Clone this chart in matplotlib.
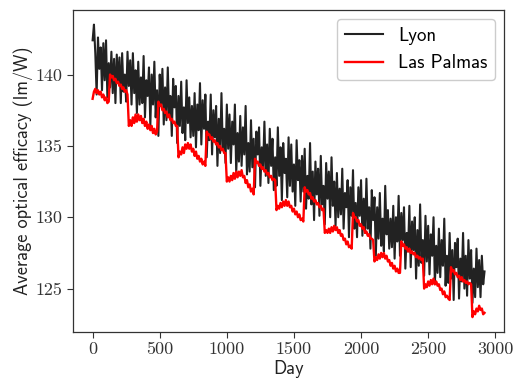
import numpy as np
import matplotlib
matplotlib.use('Agg')
import matplotlib.pyplot as plt
from matplotlib.ticker import FuncFormatter
#
# sampling grid: every 10 days over 8 years
days = np.arange(0, 2921, 10)
#
# Lyon average optical efficacy (lm/W) (one list per year)
lyon_y0 = [142.4, 143.5, 141.5, 138.6, 142.6, 140.4, 141.9, 138.9, 142.2, 139.6, 142.4, 138.4, 140.8,
           139.1, 141.6, 138.7, 141.1, 138.0, 141.4, 139.4, 141.2, 138.0, 141.5, 138.8, 140.0, 138.1,
           141.6, 139.2, 141.0, 137.9, 141.5, 138.7, 140.3, 137.3, 140.9, 137.9, 139.8]
lyon_y1 = [138.0, 141.3, 137.0, 139.6, 138.5, 140.5, 136.4, 140.0, 137.9, 140.9, 137.0, 138.9, 135.7,
           140.0, 137.9, 140.4, 136.5, 139.1, 136.8, 140.5, 137.1, 138.5, 135.7, 139.7, 137.7, 139.2,
           135.2, 138.5, 136.4, 139.5, 135.9, 137.7, 135.4, 139.6, 136.6, 138.4, 135.6]
lyon_y2 = [137.8, 135.7, 138.7, 134.9, 137.9, 136.1, 139.4, 135.1, 138.2, 136.2, 138.6, 134.2, 136.7,
           135.4, 138.6, 134.4, 137.5, 135.6, 137.8, 133.6, 136.9, 134.5, 138.7, 134.7, 136.2, 133.8,
           137.9, 134.8, 137.2, 133.8, 136.7, 135.1, 137.9, 133.1, 135.9, 133.9, 137.1]
lyon_y3 = [133.6, 136.3, 134.4, 137.8, 133.0, 135.2, 133.2, 136.8, 133.5, 135.5, 132.1, 136.0, 134.4,
           136.3, 132.2, 134.9, 133.4, 136.7, 132.9, 135.1, 132.4, 136.2, 133.6, 135.5, 131.9, 134.2,
           132.2, 136.3, 132.9, 134.9, 131.2, 135.2, 133.1, 134.1, 131.4, 135.6, 132.2]
lyon_y4 = [135.1, 131.8, 133.7, 130.8, 135.4, 132.6, 134.0, 131.1, 134.3, 131.8, 134.8, 130.6, 132.9,
           131.3, 135.2, 130.9, 133.2, 129.8, 133.9, 131.6, 133.4, 130.1, 134.3, 130.9, 132.2, 129.5,
           133.8, 131.3, 133.2, 130.0, 134.2, 130.8, 132.5, 129.4, 133.1, 130.0, 132.0]
lyon_y5 = [130.2, 133.4, 129.2, 131.7, 130.7, 132.6, 128.6, 132.1, 130.1, 133.3, 129.2, 131.0, 128.6,
           132.1, 130.1, 132.6, 128.7, 131.3, 128.9, 132.7, 129.2, 130.7, 127.8, 131.9, 129.8, 131.4,
           127.3, 130.7, 128.5, 131.7, 128.0, 129.9, 127.6, 132.2, 128.8, 130.5, 127.8]
lyon_y6 = [129.9, 127.9, 130.8, 127.1, 130.0, 128.3, 131.5, 127.3, 130.3, 128.4, 130.7, 126.4, 128.9,
           127.6, 130.8, 126.5, 129.7, 127.7, 130.0, 125.7, 129.1, 126.6, 130.9, 126.8, 128.4, 125.9,
           130.1, 126.9, 129.4, 126.0, 128.8, 127.3, 130.0, 125.3, 128.0, 126.1, 129.2]
lyon_y7 = [125.8, 128.4, 126.6, 129.9, 125.2, 127.3, 125.4, 128.9, 125.7, 127.7, 124.2, 128.2, 126.5,
           128.5, 124.3, 127.1, 125.5, 128.9, 125.0, 127.3, 124.5, 128.4, 125.7, 127.7, 124.0, 126.4,
           124.4, 127.8, 125.1, 127.0, 124.4, 127.3, 125.3, 126.2]
#
# Las Palmas average optical efficacy (lm/W)
palmas_y0 = [138.3, 138.8, 139.0, 138.7, 138.9, 138.6, 138.8, 138.4, 138.6, 138.2, 138.4, 138.0, 138.1,
             140.0, 139.8, 139.9, 139.6, 139.7, 139.4, 139.5, 139.2, 139.3, 139.0, 139.1, 138.8, 138.9, 138.6,
             136.4, 136.8, 136.4, 137.0, 136.6, 137.2, 136.7, 137.2, 136.8, 137.1, 136.6, 136.9, 136.4,
             136.7, 136.2, 136.5, 136.1, 136.4, 135.9, 136.2, 135.8, 136.0]
palmas_y1 = [138.1, 137.8, 137.9, 137.5, 137.6, 137.3, 137.4, 137.0, 137.2, 136.8, 136.9, 136.6, 136.7, 136.4, 136.4,
             134.2, 134.6, 134.4, 134.9, 134.5, 135.1, 134.8, 135.2, 134.8, 135.1, 134.6, 134.8, 134.3,
             134.6, 134.1, 134.3, 133.9, 134.1, 133.7, 133.9, 133.6]
palmas_y2 = [136.0, 135.8, 135.8, 135.5, 135.6, 135.3, 135.4, 135.1, 135.2, 134.9, 135.0, 134.7, 134.8, 134.5, 134.5,
             132.5, 132.8, 132.5, 132.9, 132.6, 133.1, 132.7, 133.2, 132.8, 133.2, 132.9, 133.3, 132.8,
             132.9, 132.4, 132.6, 132.1, 132.3, 131.8, 132.0, 131.6]
palmas_y3 = [134.1, 133.8, 133.9, 133.6, 133.7, 133.4, 133.5, 133.2, 133.3, 133.0, 133.1, 132.8, 132.9, 132.6,
             132.7, 132.6,
             130.5, 130.8, 130.6, 131.0, 130.7, 131.1, 130.8, 131.2, 130.8, 131.1, 130.7, 130.8, 130.4,
             130.6, 130.2, 130.4, 130.0, 130.2, 129.8, 129.9, 129.7]
palmas_y4 = [132.1, 131.8, 131.9, 131.6, 131.7, 131.3, 131.4, 131.1, 131.2, 130.9, 131.0, 130.7, 130.8, 130.5, 130.6,
             128.9, 129.1, 128.9, 129.2, 128.9, 129.3, 129.0, 129.4, 129.1, 129.3, 128.9, 129.1, 128.7,
             128.8, 128.4, 128.5, 128.1, 128.3, 127.9, 128.0, 127.8]
palmas_y5 = [130.3, 130.0, 130.0, 129.7, 129.8, 129.4, 129.5, 129.2, 129.3, 128.9, 129.0, 128.7, 128.8, 128.5,
             128.5, 128.4,
             126.9, 127.2, 127.0, 127.4, 127.1, 127.5, 127.2, 127.5, 127.1, 127.3, 126.9, 127.0, 126.6,
             126.8, 126.4, 126.6, 126.2, 126.4, 126.1, 126.1]
palmas_y6 = [128.3, 128.0, 128.1, 127.8, 127.9, 127.6, 127.8, 127.5, 127.6, 127.4, 127.5, 127.2, 127.3, 127.1,
             127.2, 127.0, 127.1,
             125.0, 125.3, 125.1, 125.5, 125.2, 125.6, 125.3, 125.7, 125.3, 125.5, 125.2, 125.3, 124.9,
             125.0, 124.6, 124.8, 124.4, 124.5, 124.3, 124.2]
palmas_y7 = [126.5, 126.2, 126.3, 126.0, 126.1, 125.8, 125.9, 125.6, 125.8, 125.5, 125.6, 125.4, 125.5, 125.3,
             125.4, 125.3,
             123.0, 123.4, 123.2, 123.6, 123.4, 123.8, 123.5, 123.6, 123.2, 123.3]
#
lyon = np.array(lyon_y0 + lyon_y1 + lyon_y2 + lyon_y3 + lyon_y4 + lyon_y5 + lyon_y6 + lyon_y7)
palmas = np.array(palmas_y0 + palmas_y1 + palmas_y2 + palmas_y3 + palmas_y4 + palmas_y5
                  + palmas_y6 + palmas_y7)
#
label_font = 'cmss10'
tick_font = 'cmr10'
#
fig = plt.figure(figsize=(5.16, 3.80), dpi=100)
ax = fig.add_axes([0.1415, 0.127, 0.8355, 0.8467])
ax.plot(days, lyon, color='#222222', lw=1.5, label='Lyon')
ax.plot(days, palmas, color='red', lw=1.7, label='Las Palmas')
#
ax.set_xticks([0, 500, 1000, 1500, 2000, 2500, 3000])
ax.set_yticks([125, 130, 135, 140])
ax.xaxis.set_major_formatter(FuncFormatter(lambda v, p: '%d' % v))
ax.yaxis.set_major_formatter(FuncFormatter(lambda v, p: '%d' % v))
for lab in ax.get_xticklabels() + ax.get_yticklabels():
    lab.set_fontfamily(tick_font)
    lab.set_fontsize(13)
ax.tick_params(colors='#333333', length=4, width=0.8)
for sp in ax.spines.values():
    sp.set_color('#333333')
    sp.set_linewidth(0.9)
#
ax.set_xlabel('Day', fontfamily=label_font, fontsize=13.2, color='#222222', labelpad=2)
ax.set_ylabel('Average optical efficacy (lm/W)', fontfamily=label_font, fontsize=13.2,
              color='#222222', labelpad=2)
leg = ax.legend(loc='upper right', prop={'family': label_font, 'size': 13.6}, framealpha=1,
                edgecolor='#cccccc', fancybox=True)
#
fig.savefig('out.png', dpi=100)
